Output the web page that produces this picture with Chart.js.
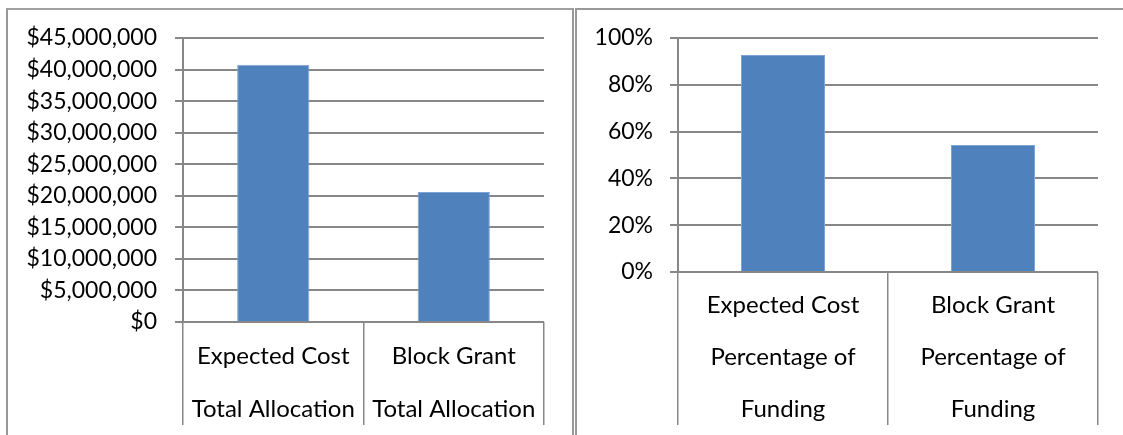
<!DOCTYPE html>
<html>
<head>
<meta charset="utf-8">
<script src="https://cdn.jsdelivr.net/npm/chart.js@4.4.0/dist/chart.umd.min.js"></script>
<style>
    html, body { margin: 0; padding: 0; background: #fff; }
    body { width: 1123px; height: 435px; position: relative; overflow: hidden; }
    .panel { position: absolute; top: 8px; height: 440px; border: 2px solid #989898; box-sizing: border-box; }
    #panelLeft { left: 6px; width: 568px; border-top-color: #a0a0a0; }
    #panelRight { left: 575px; width: 560px; }
    canvas { position: absolute; top: 0; }
    #leftChart { left: 0; }
    #rightChart { left: 577px; }
</style>
</head>
<body>
<div class="panel" id="panelLeft"></div>
<div class="panel" id="panelRight"></div>
<canvas id="leftChart" width="573" height="435"></canvas>
<canvas id="rightChart" width="546" height="435"></canvas>
<script>
// Data
const totalLabels = [['Expected Cost', 'Total Allocation'], ['Block Grant', 'Total Allocation']];
const totalValues = [40770000, 20600000];
const pctLabels = [['Expected Cost', 'Percentage of', 'Funding'], ['Block Grant', 'Percentage of', 'Funding']];
const pctValues = [92.7, 54.3];

const barColor = '#4F81BD';
const gridColor = '#878787';
const font = { family: 'Lato', size: 23 };

Chart.defaults.font.family = 'Lato';
Chart.defaults.color = '#000';

function makeChart(id, labels, values, yOpts, layout) {
    return new Chart(document.getElementById(id), {
        type: 'bar',
        data: {
            labels: labels,
            datasets: [{
                data: values,
                backgroundColor: barColor,
                borderColor: '#7FA4D4',
                borderWidth: 1,
                categoryPercentage: 1,
                barPercentage: 0.4
            }]
        },
        options: {
            responsive: false,
            animation: false,
            events: [],
            layout: { padding: { top: 38, right: layout.right, left: 0, bottom: 0 } },
            plugins: { legend: { display: false }, tooltip: { enabled: false } },
            scales: {
                x: {
                    grid: { offset: true, drawOnChartArea: false, tickLength: layout.tickLength, color: gridColor, lineWidth: 1.5 },
                    border: { display: false },
                    ticks: { font: { family: 'Lato', size: 24, lineHeight: layout.lineHeight + 'px' }, color: '#000',
                             padding: layout.labelPad, maxRotation: 0, autoSkip: false },
                    afterFit: s => { s.height = layout.xHeight; }
                },
                y: Object.assign({
                    beginAtZero: true,
                    grid: { color: gridColor, lineWidth: 2, tickLength: 8 },
                    border: { color: gridColor, width: 2 },
                    afterFit: s => { s.width = layout.yWidth; }
                }, yOpts)
            }
        }
    });
}

makeChart('leftChart', totalLabels, totalValues, {
    min: 0, max: 45000000,
    ticks: { stepSize: 5000000, font: font, color: '#000', padding: 18,
             callback: v => '$' + v.toLocaleString('en-US') }
}, { right: 29, yWidth: 183, xHeight: 113, tickLength: 103, labelPad: -103 + 8, lineHeight: 53 });

makeChart('rightChart', pctLabels, pctValues, {
    min: 0, max: 100,
    ticks: { stepSize: 20, font: font, color: '#000', padding: 17,
             callback: v => v + '%' }
}, { right: 25, yWidth: 101, xHeight: 163, tickLength: 153, labelPad: -153 + 7, lineHeight: 52 });
</script>
</body>
</html>
